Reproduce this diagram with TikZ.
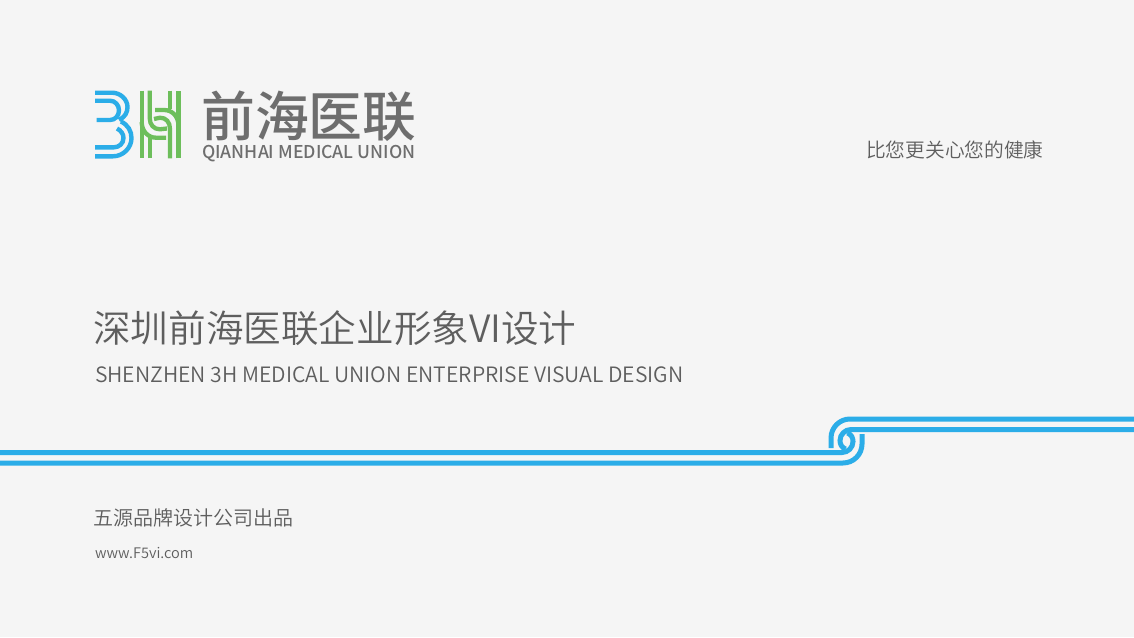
\documentclass[tikz,border=0pt]{standalone}
\usepackage{fontspec}
\newfontfamily\cjk{Noto Sans CJK SC DemiLight}
\newfontfamily\cjkr{Noto Sans CJK SC}
\newfontfamily\cjkm{Noto Sans CJK SC Medium}
\definecolor{bg}{HTML}{F5F5F5}
\definecolor{blueband}{HTML}{2BADE8}
\definecolor{logog}{HTML}{6DBE5B}
\definecolor{txt}{HTML}{5E5E5E}
\definecolor{logot}{HTML}{6E6E6E}
\tikzset{
 lbl/.style={inner sep=0pt,anchor=west,text=txt},
 band/.style={draw=blueband,line width=5pt},
 lblue/.style={draw=blueband,line width=4.4pt},
 lgreen/.style={draw=logog,line width=4.3pt}
}
\begin{document}
\begin{tikzpicture}[x=1pt,y=-1pt]
\fill[bg] (0,0) rectangle (1134,637);
\useasboundingbox (0,0) rectangle (1134,637);
% logo 3
\draw[lblue] (95,92.7) -- (112,92.7) .. controls (120.5,92.7) and (127.5,99.5) .. (127.5,107) .. controls (127.5,112.5) and (125,117) .. (119,120);
\draw[lblue] (95,100.7) -- (110,100.7) .. controls (115,100.7) and (119,105) .. (119,110.3) .. controls (119,116) and (115,120) .. (110,120) -- (96.7,120);
\draw[lblue] (121,121.5) .. controls (128,125) and (131.5,131) .. (131.5,138) .. controls (131.5,148) and (123,156.3) .. (113,156.3) -- (95,156.3);
\draw[lblue] (117,128.5) .. controls (121,130.5) and (123.5,134) .. (123.5,138) .. controls (123.5,143.5) and (119,147.3) .. (114,147.3) -- (95,147.3);
% logo H
\draw[lgreen] (141.7,90.7) -- (141.7,158.3);
\draw[lgreen] (141.7,122) .. controls (141.7,131) and (148,137.7) .. (156,137.7) -- (166,137.7);
\draw[lgreen] (149.7,90.7) -- (149.7,118) .. controls (149.7,125) and (154,129.3) .. (160,129.3) -- (167,128.5);
\draw[lgreen] (149.7,158.3) -- (149.7,136);
\draw[lgreen] (178.5,158.3) -- (178.5,90.7);
\draw[lgreen] (178.5,126) .. controls (178.5,116) and (172,110) .. (164,110) -- (155,110);
\draw[lgreen] (170,158.3) -- (170,129) .. controls (170,122) and (166,117.7) .. (160,117.7) -- (154,119);
\draw[lgreen] (170,90.7) -- (170,109);
\node[lbl,text=logot] (brand) at (201,116) {\fontsize{53.8}{54}\cjkm 前海医联};
\node[lbl,text=logot] (brandEn) at (202,153.5) {\fontsize{17.66}{18}\cjkm QIANHAI MEDICAL UNION};
\node[lbl] (slogan) at (866,149.5) {\fontsize{19.7}{20}\cjk 比您更关心您的健康};
\node[lbl] (title) at (93,328) {\fontsize{37.6}{38}\cjk 深圳前海医联企业形象VI设计};
\node[lbl] (sub) at (95,375) {\fontsize{21.15}{24}\cjk SHENZHEN 3H MEDICAL UNION ENTERPRISE VISUAL DESIGN};
\node[lbl] (maker) at (93.5,518) {\fontsize{20}{20}\cjk 五源品牌设计公司出品};
\node[lbl] (web) at (95,553) {\fontsize{14.55}{15}\cjk www.F5vi.com};
% band
\draw[band] (0,463) -- (843,463) .. controls (853.5,463) and (862,454.5) .. (862,444) -- (862,434);
\draw[band] (0,452.5) -- (842,452.5) .. controls (848,452.5) and (853,447.5) .. (853,441.5) .. controls (853,438) and (851.5,434.5) .. (847.5,433);
\draw[band] (1134,419) -- (850,419) .. controls (839.5,419) and (831,427.5) .. (831,438) -- (831,448);
\draw[band] (1134,429.5) -- (851,429.5) .. controls (845,429.5) and (840,434.5) .. (840,440.5) .. controls (840,444) and (841.5,447.5) .. (845.5,449);
\end{tikzpicture}
\end{document}
